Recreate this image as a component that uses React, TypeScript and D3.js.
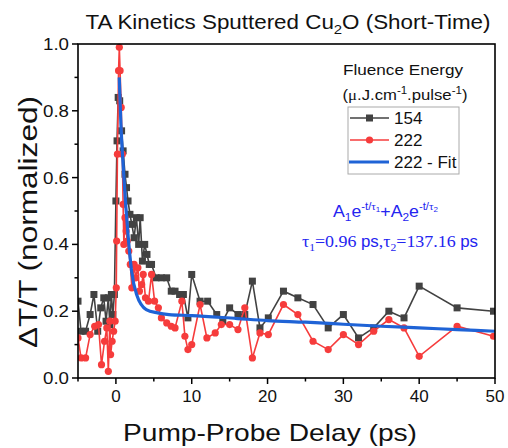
import React from "react";
import * as d3 from "d3";

// 154 uJ/cm pulse (gray squares)
const grayT = [-5, -4.6, -4.0, -3.4, -2.9, -2.4, -2.0, -1.6, -1.3, -1.0, -0.8, -0.6, -0.4, -0.2, 0.0, 0.15, 0.3, 0.5, 0.75, 0.95, 1.2, 1.4, 1.6, 1.85, 2.1, 2.4, 2.7, 3.0, 3.2, 3.5, 3.8, 4.1, 4.4, 4.7, 5.3, 6.0, 6.7, 7.3, 7.8, 8.4, 8.9, 9.5, 10.0, 11.1, 12.1, 13.3, 14.1, 15.0, 16.1, 17.0, 18.0, 19.0, 20.1, 22.1, 24.0, 26.0, 28.0, 30.0, 32.0, 34.0, 36.0, 38.0, 40.0, 45.0, 49.8];
const grayV = [0.23, 0.14, 0.14, 0.19, 0.25, 0.14, 0.21, 0.24, 0.17, 0.24, 0.16, 0.25, 0.19, 0.25, 0.53, 0.71, 0.84, 0.83, 0.74, 0.68, 0.61, 0.57, 0.53, 0.49, 0.46, 0.42, 0.48, 0.40, 0.48, 0.35, 0.40, 0.37, 0.34, 0.34, 0.30, 0.30, 0.30, 0.26, 0.26, 0.25, 0.25, 0.18, 0.31, 0.23, 0.23, 0.19, 0.17, 0.21, 0.19, 0.19, 0.29, 0.15, 0.18, 0.26, 0.24, 0.22, 0.15, 0.19, 0.12, 0.15, 0.20, 0.18, 0.275, 0.21, 0.20];

// 222 uJ/cm pulse (red circles)
const redT = [-5, -4.6, -4.0, -3.4, -2.8, -2.3, -1.9, -1.5, -1.2, -1.0, -0.8, -0.7, -0.5, -0.3, -0.1, 0.05, 0.1, 0.2, 0.35, 0.45, 0.55, 0.7, 0.85, 0.95, 1.05, 1.2, 1.35, 1.5, 1.7, 1.9, 2.1, 2.4, 2.6, 2.9, 3.1, 3.4, 3.6, 3.9, 4.3, 4.7, 5.1, 5.6, 6.0, 6.7, 7.3, 7.8, 8.7, 9.1, 9.5, 10.0, 11.1, 12.0, 13.1, 13.9, 15.0, 16.1, 17.0, 18.0, 19.0, 20.1, 22.1, 24.0, 26.0, 28.0, 30.0, 32.0, 34.0, 36.0, 38.0, 40.0, 45.0, 49.8];
const redV = [0.12, 0.06, 0.06, 0.13, 0.155, 0.16, 0.04, 0.11, 0.15, 0.02, 0.17, 0.07, 0.11, 0.14, 0.17, 0.27, 0.41, 0.67, 0.92, 0.99, 0.92, 0.81, 0.67, 0.52, 0.40, 0.48, 0.44, 0.41, 0.38, 0.34, 0.27, 0.34, 0.30, 0.33, 0.26, 0.28, 0.31, 0.24, 0.23, 0.31, 0.23, 0.21, 0.18, 0.165, 0.155, 0.15, 0.23, 0.125, 0.085, 0.10, 0.22, 0.12, 0.135, 0.16, 0.16, 0.145, 0.21, 0.06, 0.135, 0.13, 0.22, 0.19, 0.11, 0.085, 0.13, 0.10, 0.14, 0.175, 0.15, 0.065, 0.155, 0.125];

// 222 - Fit
const fitT = [0.44, 0.66, 0.97, 1.32, 1.63, 2.07, 2.73, 4.0, 5.5, 7.0, 10, 16, 20, 25, 30, 35, 40, 45, 50];
const fitV = [0.9, 0.76, 0.63, 0.51, 0.42, 0.32, 0.25, 0.205, 0.195, 0.19, 0.187, 0.178, 0.172, 0.167, 0.161, 0.155, 0.15, 0.145, 0.14];

const xTickValues = [0, 10, 20, 30, 40, 50];
const yTickValues = [0, 0.2, 0.4, 0.6, 0.8, 1.0];
const legendLabels = ["154", "222", "222 - Fit"];

const GRAY = "#424242";
const RED = "#f63c3c";
const BLUE = "#1f63d6";
const EQ_BLUE = "#2424f0";
const SANS = "Arial, 'Liberation Sans', sans-serif";
const SERIF = "'Times New Roman', 'Liberation Serif', serif";

export default function App() {
  const width = 508;
  const height = 448;
  const x = d3.scaleLinear().domain([-5, 50]).range([78, 495]);
  const y = d3.scaleLinear().domain([0, 1]).range([378, 44]);
  const [x0, x1] = x.range();
  const [y0, y1] = y.range();

  const line = d3
    .line<[number, number]>()
    .x((d) => x(d[0]))
    .y((d) => y(d[1]));
  const fitLine = d3
    .line<[number, number]>()
    .x((d) => x(d[0]))
    .y((d) => y(d[1]))
    .curve(d3.curveMonotoneX);

  const gray = grayT.map((t, i) => [t, grayV[i]] as [number, number]);
  const red = redT.map((t, i) => [t, redV[i]] as [number, number]);
  const fit = fitT.map((t, i) => [t, fitV[i]] as [number, number]);

  const xMinor = x.ticks(11).filter((t) => !xTickValues.includes(t));
  const yMinor = y.ticks(10).filter((t) => !yTickValues.some((v) => Math.abs(v - t) < 1e-6));

  const lg = { x: 348, y: 107, w: 111, h: 67 };

  return (
    <svg
      width={width}
      height={height}
      style={{ position: "absolute", left: 0, top: 0, background: "#fff" }}
      fontFamily={SANS}
    >
      <rect width={width} height={height} fill="#fff" />
      <defs>
        <clipPath id="plotClip">
          <rect x={x0} y={y1 - 6} width={x1 - x0} height={y0 - y1 + 6} />
        </clipPath>
      </defs>

      {/* title */}
      <text x={288} y={29} fontSize={19.5} textAnchor="middle" fill="#111" textLength={405} lengthAdjust="spacingAndGlyphs">
        TA Kinetics Sputtered Cu<tspan fontSize={13} dy={5}>2</tspan>
        <tspan dy={-5}>O (Short-Time)</tspan>
      </text>

      {/* data */}
      <g clipPath="url(#plotClip)">
        <path d={line(gray) || ""} fill="none" stroke={GRAY} strokeWidth={1.6} />
        {gray.map((d, i) => (
          <rect key={"g" + i} x={x(d[0]) - 3.5} y={y(d[1]) - 3.5} width={7} height={7} fill={GRAY} />
        ))}
        <path d={line(red) || ""} fill="none" stroke={RED} strokeWidth={1.6} />
        {red.map((d, i) => (
          <circle key={"r" + i} cx={x(d[0])} cy={y(d[1])} r={3.6} fill={RED} />
        ))}
        <path d={fitLine(fit) || ""} fill="none" stroke={BLUE} strokeWidth={3.2} />
      </g>

      {/* frame */}
      <rect x={x0} y={y1} width={x1 - x0} height={y0 - y1} fill="none" stroke="#000" strokeWidth={1.6} />

      {/* x axis */}
      {xTickValues.map((t) => (
        <g key={"xt" + t}>
          <line x1={x(t)} x2={x(t)} y1={y0} y2={y0 + 6} stroke="#000" strokeWidth={1.5} />
          <text x={x(t)} y={y0 + 24} fontSize={17} textAnchor="middle" fill="#111">
            {t}
          </text>
        </g>
      ))}
      {xMinor.map((t) => (
        <line key={"xm" + t} x1={x(t)} x2={x(t)} y1={y0} y2={y0 + 3.5} stroke="#000" strokeWidth={1.5} />
      ))}

      {/* y axis */}
      {yTickValues.map((t) => (
        <g key={"yt" + t}>
          <line x1={x0 - 6} x2={x0} y1={y(t)} y2={y(t)} stroke="#000" strokeWidth={1.5} />
          <text x={x0 - 9} y={y(t) + 6} fontSize={17} textAnchor="end" fill="#111" textLength={26} lengthAdjust="spacingAndGlyphs">
            {d3.format(".1f")(t)}
          </text>
        </g>
      ))}
      {yMinor.map((t) => (
        <line key={"ym" + t} x1={x0 - 3.5} x2={x0} y1={y(t)} y2={y(t)} stroke="#000" strokeWidth={1.5} />
      ))}

      {/* axis labels */}
      <text x={270} y={441} fontSize={24} textAnchor="middle" fill="#111" textLength={294} lengthAdjust="spacingAndGlyphs">
        Pump-Probe Delay (ps)
      </text>
      <text
        transform={`translate(37,222) rotate(-90)`}
        fontSize={25}
        textAnchor="middle"
        fill="#111"
        textLength={252}
        lengthAdjust="spacingAndGlyphs"
      >
        ΔT/T (normalized)
      </text>

      {/* legend */}
      <text x={403} y={75} fontSize={15} textAnchor="middle" fill="#111" textLength={120} lengthAdjust="spacingAndGlyphs">
        Fluence Energy
      </text>
      <text x={405} y={100} fontSize={14.5} textAnchor="middle" fill="#111" textLength={125} lengthAdjust="spacingAndGlyphs">
        (<tspan fontFamily={SERIF}>μ</tspan>.J.cm<tspan fontSize={10} dy={-6}>-1</tspan>
        <tspan dy={6}>.pulse</tspan>
        <tspan fontSize={10} dy={-6}>-1</tspan>
        <tspan dy={6}>)</tspan>
      </text>
      <rect x={lg.x} y={lg.y} width={lg.w} height={lg.h} fill="#fff" stroke="#aaa" strokeWidth={1} />
      {legendLabels.map((label, i) => {
        const cy = lg.y + 11 + i * 22;
        return (
          <g key={label}>
            {i === 0 && (
              <>
                <line x1={lg.x + 2} x2={lg.x + 41} y1={cy} y2={cy} stroke={GRAY} strokeWidth={1.6} />
                <rect x={lg.x + 18} y={cy - 3.5} width={7} height={7} fill={GRAY} />
              </>
            )}
            {i === 1 && (
              <>
                <line x1={lg.x + 2} x2={lg.x + 41} y1={cy} y2={cy} stroke={RED} strokeWidth={1.6} />
                <circle cx={lg.x + 21.5} cy={cy} r={3.6} fill={RED} />
              </>
            )}
            {i === 2 && <line x1={lg.x + 1} x2={lg.x + 41} y1={cy} y2={cy} stroke={BLUE} strokeWidth={3.2} />}
            <text x={lg.x + 46} y={cy + 6} fontSize={17} fill="#111">
              {label}
            </text>
          </g>
        );
      })}

      {/* fit equation */}
      <text x={333} y={217} fontSize={16.5} fill={EQ_BLUE} textLength={105} lengthAdjust="spacingAndGlyphs">
        A<tspan fontSize={11} dy={4}>1</tspan>
        <tspan dy={-4}>e</tspan>
        <tspan fontSize={10.5} dy={-7}>-t/</tspan>
        <tspan fontSize={10.5} fontFamily={SERIF}>τ</tspan>
        <tspan fontSize={7.5} dy={2}>1</tspan>
        <tspan dy={5}>+A</tspan>
        <tspan fontSize={11} dy={4}>2</tspan>
        <tspan dy={-4}>e</tspan>
        <tspan fontSize={10.5} dy={-7}>-t/</tspan>
        <tspan fontSize={10.5} fontFamily={SERIF}>τ</tspan>
        <tspan fontSize={7.5} dy={2}>2</tspan>
      </text>
      <text x={302} y={247} fontSize={17} fill={EQ_BLUE} fontFamily={SERIF} textLength={176} lengthAdjust="spacingAndGlyphs">
        τ<tspan fontSize={11} dy={4}>1</tspan>
        <tspan dy={-4}>=0.96 </tspan>
        <tspan fontFamily={SANS} fontSize={16}>ps</tspan>,τ<tspan fontSize={11} dy={4}>2</tspan>
        <tspan dy={-4}>=137.16 </tspan>
        <tspan fontFamily={SANS} fontSize={16}>ps</tspan>
      </text>
    </svg>
  );
}
